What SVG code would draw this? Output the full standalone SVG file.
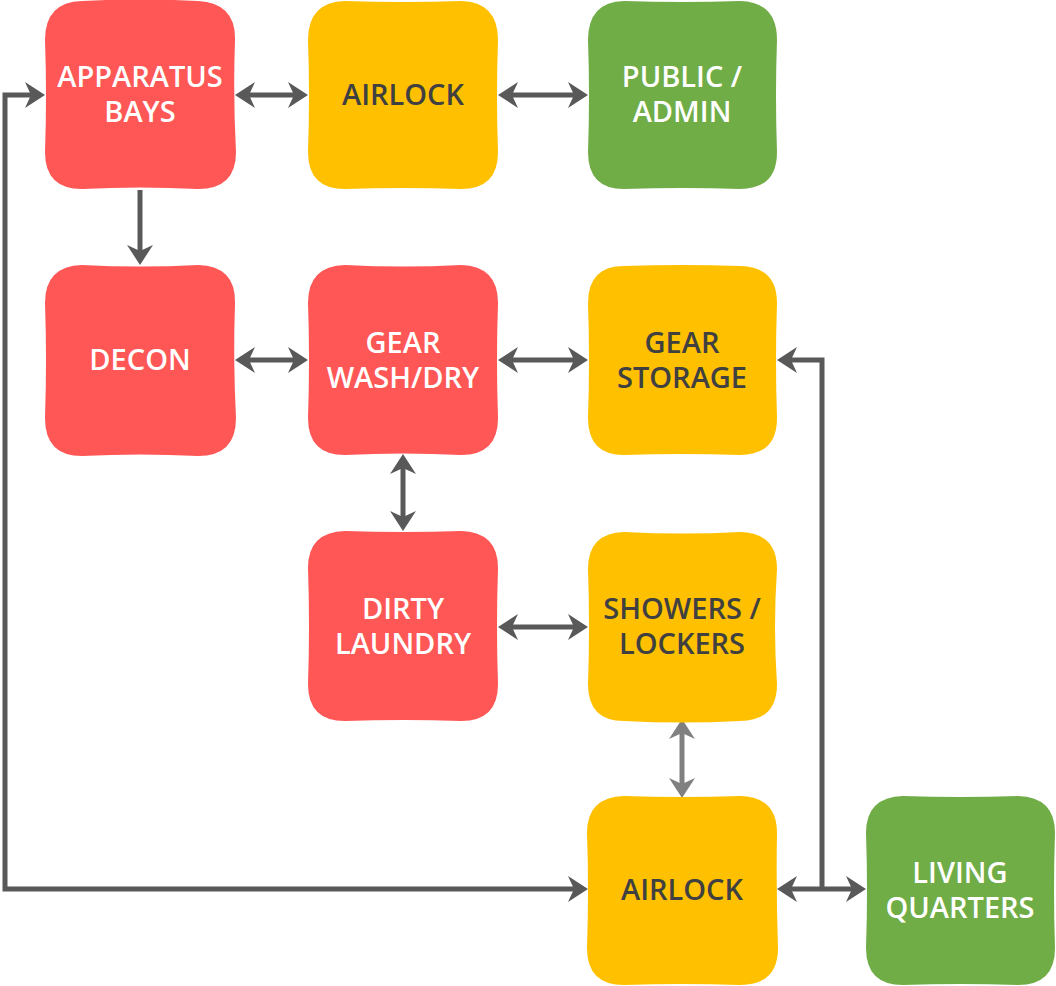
<svg xmlns="http://www.w3.org/2000/svg" width="1056" height="986" viewBox="0 0 1056 986">
<style>
.red{fill:#FF5656}
.yel{fill:#FFC000}
.grn{fill:#70AD47}
.t{font-family:"Open Sans","Noto Sans","Liberation Sans",sans-serif;font-weight:600;font-size:29px;text-anchor:middle}
.tw{fill:#FFFFFF}
.td{fill:#404040}
.c{fill:none;stroke:#595959;stroke-width:5;stroke-linejoin:miter}
.cl{fill:none;stroke:#808080;stroke-width:5}
</style>
<defs>
<marker id="ah" markerUnits="userSpaceOnUse" markerWidth="26" markerHeight="30" viewBox="-12 -15 26 30" refX="0" refY="0" orient="auto-start-reverse">
<path d="M11,0 L-9,-13 L-3,0 L-9,13 Z" fill="#595959"/>
</marker>
<marker id="ahl" markerUnits="userSpaceOnUse" markerWidth="26" markerHeight="30" viewBox="-12 -15 26 30" refX="0" refY="0" orient="auto-start-reverse">
<path d="M11,0 L-9,-13 L-3,0 L-9,13 Z" fill="#808080"/>
</marker>
</defs>
<g id="connectors">
<line class="c" x1="246" y1="95" x2="297" y2="95" marker-start="url(#ah)" marker-end="url(#ah)"/>
<line class="c" x1="509" y1="95" x2="577" y2="95" marker-start="url(#ah)" marker-end="url(#ah)"/>
<line class="c" x1="140" y1="190" x2="140" y2="254" marker-end="url(#ah)"/>
<line class="c" x1="246" y1="360" x2="297" y2="360" marker-start="url(#ah)" marker-end="url(#ah)"/>
<line class="c" x1="509" y1="360" x2="577" y2="360" marker-start="url(#ah)" marker-end="url(#ah)"/>
<line class="c" x1="403" y1="465" x2="403" y2="520" marker-start="url(#ah)" marker-end="url(#ah)"/>
<line class="c" x1="509" y1="627" x2="577" y2="627" marker-start="url(#ah)" marker-end="url(#ah)"/>
<line class="cl" x1="682" y1="730" x2="682" y2="787" marker-start="url(#ahl)" marker-end="url(#ahl)"/>
<polyline class="c" points="577,889 5,889 5,95 34,95" marker-start="url(#ah)" marker-end="url(#ah)"/>
<line class="c" x1="788" y1="889" x2="855" y2="889" marker-start="url(#ah)" marker-end="url(#ah)"/>
<polyline class="c" points="822,889 822,360 788,360" marker-end="url(#ah)"/>
</g>
<g id="apparatus-bays">
<path class="red" d="M82,1 Q140,-2 198,1 Q236,3 235,40 Q233,95 236,152 Q236,189 198,189 Q140,186 82,189 Q45,189 45,152 Q47,95 45,40 Q45,2 82,1 Z"/>
<text class="t tw" x="140" y="87">APPARATUS</text>
<text class="t tw" x="140" y="122">BAYS</text>
</g>
<g id="airlock-top">
<path class="yel" d="M345,1 Q403,3 461,1 Q498,2 498,40 Q496,95 498,152 Q498,189 461,189 Q403,187 345,189 Q308,189 308,152 Q310,95 308,40 Q308,2 345,1 Z"/>
<text class="t td" x="403" y="105">AIRLOCK</text>
</g>
<g id="public-admin">
<path class="grn" d="M624,1 Q682,3 740,1 Q777,2 777,40 Q775,95 777,152 Q777,189 740,189 Q682,187 624,189 Q588,189 588,152 Q590,95 588,40 Q588,2 624,1 Z"/>
<text class="t tw" x="682" y="87">PUBLIC /</text>
<text class="t tw" x="682" y="122">ADMIN</text>
</g>
<g id="decon">
<path class="red" d="M82,265 Q140,268 198,265 Q236,266 235,303 Q233,360 236,418 Q236,456 198,456 Q140,453 82,456 Q45,456 45,418 Q47,360 45,303 Q45,266 82,265 Z"/>
<text class="t tw" x="140" y="370">DECON</text>
</g>
<g id="gear-wash-dry">
<path class="red" d="M345,265 Q403,268 461,265 Q498,266 498,303 Q496,360 498,418 Q498,455 461,455 Q403,452 345,455 Q308,455 308,418 Q310,360 308,303 Q308,266 345,265 Z"/>
<text class="t tw" x="403" y="353">GEAR</text>
<text class="t tw" x="403" y="388">WASH/DRY</text>
</g>
<g id="gear-storage">
<path class="yel" d="M624,266 Q682,264 740,266 Q777,267 777,303 Q775,360 777,418 Q777,455 740,455 Q682,453 624,455 Q588,455 588,418 Q590,360 588,303 Q588,266 624,266 Z"/>
<text class="t td" x="682" y="353">GEAR</text>
<text class="t td" x="682" y="388">STORAGE</text>
</g>
<g id="dirty-laundry">
<path class="red" d="M345,531 Q403,533 461,531 Q498,532 498,568 Q496,627 498,684 Q498,721 461,721 Q403,719 345,721 Q308,721 308,684 Q310,627 308,568 Q308,532 345,531 Z"/>
<text class="t tw" x="403" y="619">DIRTY</text>
<text class="t tw" x="403" y="654">LAUNDRY</text>
</g>
<g id="showers-lockers">
<path class="yel" d="M624,532 Q682,535 740,532 Q777,533 777,569 Q773,627 777,684 Q777,721 740,721 Q682,724 624,721 Q588,721 588,684 Q590,627 588,569 Q588,533 624,532 Z"/>
<text class="t td" x="682" y="619">SHOWERS /</text>
<text class="t td" x="682" y="654">LOCKERS</text>
</g>
<g id="airlock-bottom">
<path class="yel" d="M624,796 Q682,798 740,796 Q777,797 777,833 Q776,890 778,948 Q778,985 740,985 Q682,983 624,985 Q587,985 587,948 Q589,890 587,833 Q587,797 624,796 Z"/>
<text class="t td" x="682" y="900">AIRLOCK</text>
</g>
<g id="living-quarters">
<path class="grn" d="M903,796 Q960,798 1018,796 Q1055,797 1055,833 Q1053,890 1055,948 Q1055,985 1018,985 Q960,983 903,985 Q866,985 866,948 Q868,890 866,833 Q866,797 903,796 Z"/>
<text class="t tw" x="960" y="883">LIVING</text>
<text class="t tw" x="960" y="918">QUARTERS</text>
</g>
</svg>
